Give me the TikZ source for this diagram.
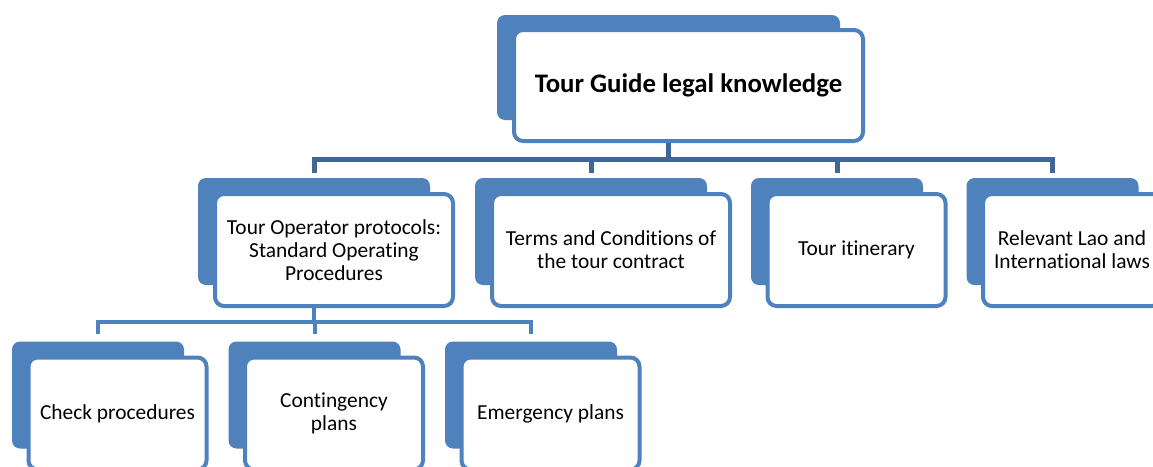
\documentclass[tikz,border=0pt]{standalone}
\usepackage{fontspec}
\setmainfont{Carlito}[Ligatures=NoCommon]
\definecolor{boxblue}{RGB}{79,129,189}
\definecolor{busblue}{RGB}{64,103,151}
\begin{document}
\begin{tikzpicture}[x=1pt,y=-1pt,
  backbox/.style={fill=boxblue,rounded corners=8pt,inner sep=0pt},
  frontbox/.style={draw=boxblue,line width=4pt,fill=white,rounded corners=9pt,inner sep=0pt,align=center,font=\fontsize{21.4}{23}\selectfont},
  bus/.style={draw=busblue,line width=5pt},
  subbus/.style={draw=boxblue,line width=4pt}]
\useasboundingbox (0,0) rectangle (1153,466);
\node[backbox,minimum width=343pt,minimum height=105pt] (guideB) at (668.5,67.5) {};
\foreach \name/\x/\w in {op/314/232pt,terms/591/232pt,itin/837/172pt,laws/1052.5/172pt}
  \node[backbox,minimum width=\w,minimum height=107pt] (\name B) at (\x,231.5) {};
\foreach \name/\x in {check/98,conting/314.5,emerg/531}
  \node[backbox,minimum width=172pt,minimum height=107pt] (\name B) at (\x,395) {};
\foreach \name in {op,terms,itin,laws}
  \draw[bus] (guideB.south) -- ++(0,39.5) -| ([yshift=5pt]\name B.north);
\foreach \name in {check,conting,emerg}
  \draw[subbus] (opB.south) -- ++(0,37) -| ([yshift=7pt]\name B.north);
\node[frontbox,font=\fontsize{26.8}{30}\selectfont\bfseries,minimum width=349pt,minimum height=111pt] (guide) at ([shift={(20,18)}]guideB) {Tour Guide legal knowledge};
\node[frontbox,minimum width=238pt,minimum height=112pt] (op) at ([shift={(20,18.5)}]opB) {Tour Operator protocols:\\Standard Operating\\Procedures};
\node[frontbox,minimum width=238pt,minimum height=112pt] (terms) at ([shift={(20,18.5)}]termsB) {Terms and Conditions of\\the tour contract};
\node[frontbox,minimum width=178pt,minimum height=112pt] (itin) at ([shift={(19.5,18.5)}]itinB) {Tour itinerary};
\node[frontbox,minimum width=178pt,minimum height=112pt] (laws) at ([shift={(19.5,18.5)}]lawsB) {Relevant Lao and\\International laws};
\node[frontbox,minimum width=178pt,minimum height=112pt] (check) at ([shift={(19.5,18.5)}]checkB) {Check procedures};
\node[frontbox,minimum width=178pt,minimum height=112pt] (conting) at ([shift={(19.5,18.5)}]contingB) {Contingency\\plans};
\node[frontbox,minimum width=178pt,minimum height=112pt] (emerg) at ([shift={(19.5,18.5)}]emergB) {Emergency plans};
\end{tikzpicture}
\end{document}
